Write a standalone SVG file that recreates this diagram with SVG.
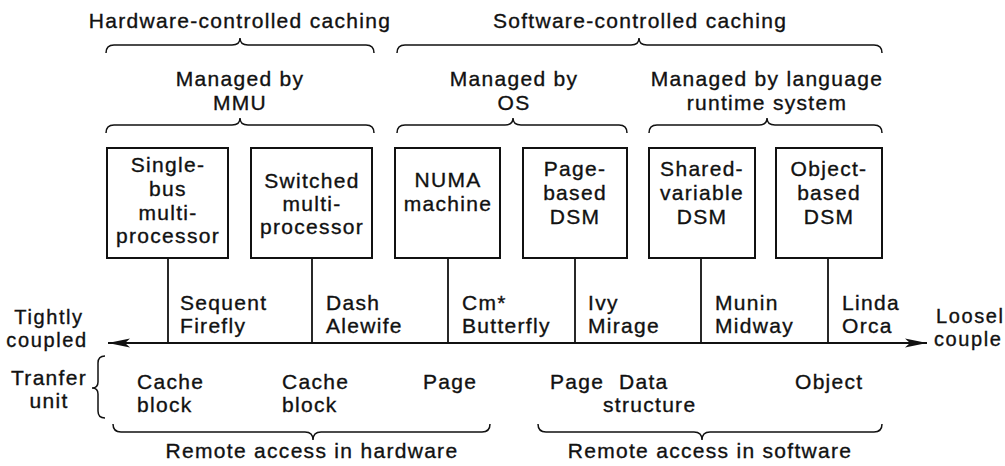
<svg xmlns="http://www.w3.org/2000/svg" width="1005" height="466" viewBox="0 0 1005 466">
<style>
text{font-family:"Liberation Sans",Arial,sans-serif;font-size:21px;letter-spacing:1.3px;fill:#111;stroke:#111;stroke-width:0.35}
.c{text-anchor:middle}
.s{font-size:20px;letter-spacing:1.6px}
.box{fill:#fff;stroke:#111;stroke-width:2}
.ln{fill:none;stroke:#111;stroke-width:1.8}
.br{fill:none;stroke:#111;stroke-width:1.5}
</style>
<defs>
<marker id="ah" viewBox="0 0 22 10" refX="22" refY="5" markerWidth="22" markerHeight="10" orient="auto-start-reverse" markerUnits="userSpaceOnUse">
<path d="M0,0.5 L22,5 L0,9.5 L5,5 Z" fill="#111"/>
</marker>
</defs>
<rect width="1005" height="466" fill="#fff"/>

<g id="headers">
<text class="c" x="240" y="28">Hardware-controlled caching</text>
<text class="c" x="640" y="28">Software-controlled caching</text>
<path class="br" d="M106,53 Q106,45 114,45 L232,45 Q240,45 240,38 Q240,45 248,45 L366,45 Q374,45 374,53"/>
<path class="br" d="M397,53 Q397,45 405,45 L631,45 Q639,45 639,38 Q639,45 647,45 L874,45 Q882,45 882,53"/>
<text class="c" x="240" y="86">Managed by</text>
<text class="c" x="240" y="110">MMU</text>
<text class="c" x="514" y="86">Managed by</text>
<text class="c" x="514" y="110">OS</text>
<text class="c" x="767" y="86">Managed by language</text>
<text class="c" x="767" y="110">runtime system</text>
<path class="br" d="M106,133 Q106,125 114,125 L232,125 Q240,125 240,118 Q240,125 248,125 L366,125 Q374,125 374,133"/>
<path class="br" d="M397,133 Q397,125 405,125 L505,125 Q513,125 513,118 Q513,125 521,125 L619,125 Q627,125 627,133"/>
<path class="br" d="M649,133 Q649,125 657,125 L759,125 Q767,125 767,118 Q767,125 775,125 L874,125 Q882,125 882,133"/>
</g>

<g id="connectors">
<line class="ln" x1="168" y1="258" x2="168" y2="343"/>
<line class="ln" x1="312" y1="258" x2="312" y2="343"/>
<line class="ln" x1="448" y1="258" x2="448" y2="343"/>
<line class="ln" x1="575" y1="258" x2="575" y2="343"/>
<line class="ln" x1="701" y1="258" x2="701" y2="343"/>
<line class="ln" x1="828" y1="258" x2="828" y2="343"/>
<line class="ln" x1="108" y1="343" x2="927" y2="343" marker-start="url(#ah)" marker-end="url(#ah)"/>
</g>

<g id="node-single-bus">
<rect class="box" x="107" y="148" width="121" height="110"/>
<text class="c" x="168" y="172">Single-</text>
<text class="c" x="168" y="196">bus</text>
<text class="c" x="168" y="220">multi-</text>
<text class="c" x="168" y="243">processor</text>
</g>
<g id="node-switched">
<rect class="box" x="251" y="148" width="121" height="110"/>
<text class="c" x="312" y="188">Switched</text>
<text class="c" x="312" y="211">multi-</text>
<text class="c" x="312" y="234">processor</text>
</g>
<g id="node-numa">
<rect class="box" x="395" y="148" width="105" height="110"/>
<text class="c" x="448" y="187">NUMA</text>
<text class="c" x="448" y="211">machine</text>
</g>
<g id="node-page-dsm">
<rect class="box" x="523" y="148" width="104" height="110"/>
<text class="c" x="575" y="176">Page-</text>
<text class="c" x="575" y="200">based</text>
<text class="c" x="575" y="224">DSM</text>
</g>
<g id="node-shared-var">
<rect class="box" x="649" y="148" width="106" height="110"/>
<text class="c" x="702" y="176">Shared-</text>
<text class="c" x="702" y="200">variable</text>
<text class="c" x="702" y="224">DSM</text>
</g>
<g id="node-object-dsm">
<rect class="box" x="776" y="148" width="106" height="110"/>
<text class="c" x="829" y="176">Object-</text>
<text class="c" x="829" y="200">based</text>
<text class="c" x="829" y="224">DSM</text>
</g>

<g id="examples">
<text x="180" y="310">Sequent</text>
<text x="180" y="333">Firefly</text>
<text x="326" y="310">Dash</text>
<text x="326" y="333">Alewife</text>
<text x="462" y="310">Cm*</text>
<text x="462" y="333">Butterfly</text>
<text x="588" y="310">Ivy</text>
<text x="588" y="333">Mirage</text>
<text x="715" y="310">Munin</text>
<text x="715" y="333">Midway</text>
<text x="842" y="310">Linda</text>
<text x="842" y="333">Orca</text>
</g>

<g id="axis-labels">
<text class="c s" x="49" y="324">Tightly</text>
<text class="c s" x="47" y="347">coupled</text>
<text class="s" x="936" y="323">Loosel</text>
<text class="s" x="934" y="346">couple</text>
</g>

<g id="transfer">
<text class="c" x="49" y="385">Tranfer</text>
<text class="c" x="49" y="408">unit</text>
<path class="br" d="M105,356 Q98,356 98,363 L98,382 Q98,388 92,388 Q98,388 98,394 L98,411 Q98,418 105,418"/>
<text x="137" y="389">Cache</text>
<text x="137" y="412">block</text>
<text x="282" y="389">Cache</text>
<text x="282" y="412">block</text>
<text x="423" y="389">Page</text>
<text x="550" y="389">Page</text>
<text x="619" y="389">Data</text>
<text x="603" y="412">structure</text>
<text x="795" y="389">Object</text>
</g>

<g id="footers">
<path class="br" d="M113,424 Q113,432 121,432 L305,432 Q313,432 313,440 Q313,432 321,432 L482,432 Q490,432 490,424"/>
<path class="br" d="M538,424 Q538,432 546,432 L694,432 Q702,432 702,440 Q702,432 710,432 L874,432 Q882,432 882,424"/>
<text class="c" x="312" y="458">Remote access in hardware</text>
<text class="c" x="710" y="458">Remote access in software</text>
</g>
</svg>
